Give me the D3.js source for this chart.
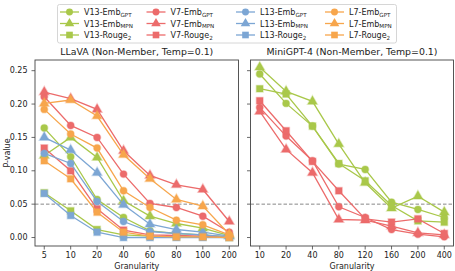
<!DOCTYPE html>
<html>
<head>
<meta charset="utf-8">
<script src="https://cdn.jsdelivr.net/npm/d3@7"></script>
<style>
  body { margin: 0; background: #fff; }
  svg { display: block; font-family: "DejaVu Sans", sans-serif; }
</style>
</head>
<body>
<div id="chart"></div>
<script>
// ── Data ──────────────────────────────────────────────────────────────────
const llavaGran = ["5", "10", "20", "40", "60", "80", "100", "200"];
const minigptGran = ["10", "20", "40", "80", "120", "160", "200", "400"];
const yTicks = [0, 0.05, 0.10, 0.15, 0.20, 0.25];

// LLaVA panel
const llavaV13Gpt   = [0.164, 0.121, 0.057, 0.030, 0.010, 0.006, 0.004, 0.001];
const llavaV13Mpn   = [0.123, 0.150, 0.120, 0.055, 0.032, 0.021, 0.014, 0.003];
const llavaV13Rouge = [0.067, 0.040, 0.012, 0.004, 0.002, 0.001, 0.001, 0.000];
const llavaV7Gpt    = [0.211, 0.168, 0.150, 0.095, 0.051, 0.045, 0.032, 0.008];
const llavaV7Mpn    = [0.218, 0.208, 0.192, 0.130, 0.093, 0.079, 0.072, 0.024];
const llavaV7Rouge  = [0.134, 0.100, 0.043, 0.011, 0.004, 0.003, 0.002, 0.001];
const llavaL13Gpt   = [0.126, 0.111, 0.054, 0.024, 0.009, 0.006, 0.004, 0.001];
const llavaL13Mpn   = [0.150, 0.131, 0.097, 0.049, 0.020, 0.012, 0.008, 0.002];
const llavaL13Rouge = [0.066, 0.033, 0.008, 0.000, 0.000, 0.000, 0.000, 0.000];
const llavaL7Gpt    = [0.192, 0.155, 0.134, 0.070, 0.045, 0.026, 0.019, 0.004];
const llavaL7Mpn    = [0.201, 0.206, 0.182, 0.124, 0.088, 0.057, 0.047, 0.005];
const llavaL7Rouge  = [0.115, 0.088, 0.038, 0.008, 0.002, 0.001, 0.001, 0.000];

// MiniGPT-4 panel
const miniV13Gpt   = [0.245, 0.201, 0.167, 0.110, 0.102, 0.053, 0.042, 0.030];
const miniV13Mpn   = [0.255, 0.219, 0.204, 0.140, 0.082, 0.044, 0.062, 0.038];
const miniV13Rouge = [0.223, 0.215, 0.167, 0.111, 0.085, 0.048, 0.025, 0.023];
const miniV7Gpt    = [0.195, 0.152, 0.115, 0.046, 0.030, 0.012, 0.005, 0.001];
const miniV7Mpn    = [0.189, 0.132, 0.097, 0.027, 0.026, 0.017, 0.007, 0.004];
const miniV7Rouge  = [0.205, 0.160, 0.114, 0.070, 0.028, 0.023, 0.028, 0.006];

const COLORS = { V13: "#a9c84a", V7: "#ec6b6b", L13: "#7ca6d4", L7: "#f7a64c" };

const llavaSeries = [
  { model: "V13", marker: "circle",   values: llavaV13Gpt },
  { model: "V13", marker: "triangle", values: llavaV13Mpn },
  { model: "V13", marker: "square",   values: llavaV13Rouge },
  { model: "V7",  marker: "circle",   values: llavaV7Gpt },
  { model: "V7",  marker: "triangle", values: llavaV7Mpn },
  { model: "V7",  marker: "square",   values: llavaV7Rouge },
  { model: "L13", marker: "circle",   values: llavaL13Gpt },
  { model: "L13", marker: "triangle", values: llavaL13Mpn },
  { model: "L13", marker: "square",   values: llavaL13Rouge },
  { model: "L7",  marker: "circle",   values: llavaL7Gpt },
  { model: "L7",  marker: "triangle", values: llavaL7Mpn },
  { model: "L7",  marker: "square",   values: llavaL7Rouge },
];
const miniSeries = [
  { model: "V13", marker: "circle",   values: miniV13Gpt },
  { model: "V13", marker: "triangle", values: miniV13Mpn },
  { model: "V13", marker: "square",   values: miniV13Rouge },
  { model: "V7",  marker: "circle",   values: miniV7Gpt },
  { model: "V7",  marker: "triangle", values: miniV7Mpn },
  { model: "V7",  marker: "square",   values: miniV7Rouge },
];

const legendModels = ["V13", "V7", "L13", "L7"];
const legendMetrics = [
  { marker: "circle",   base: "-Emb",   sub: "GPT" },
  { marker: "triangle", base: "-Emb",   sub: "MPN" },
  { marker: "square",   base: "-Rouge", sub: "2" },
];

// ── Layout ────────────────────────────────────────────────────────────────
const W = 455, H = 271;
const svg = d3.select("#chart").append("svg").attr("width", W).attr("height", H);

const plotTop = 60, plotBottom = 246;
const y = d3.scaleLinear().domain([-0.0127, 0.266]).range([plotBottom, plotTop]);

const symbolFor = {
  circle:   d3.symbol().type(d3.symbolCircle).size(38),
  triangle: d3.symbol().type(d3.symbolTriangle).size(40),
  square:   d3.symbol().type(d3.symbolSquare).size(44),
};

function drawPanel(left, right, cats, series, title, showYLabels) {
  // padding in step units: 0.35 of a step on each side (matplotlib margins)
  const x = d3.scalePoint().domain(cats).range([left, right]).padding(0.35);
  const g = svg.append("g");

  // dashed reference line
  g.append("line")
    .attr("x1", left).attr("x2", right)
    .attr("y1", y(0.05)).attr("y2", y(0.05))
    .attr("stroke", "#888").attr("stroke-width", 1)
    .attr("stroke-dasharray", "3.5,2");

  const line = d3.line().x((d, i) => x(cats[i])).y(d => y(d));

  series.forEach(function (s) {
    const c = COLORS[s.model];
    g.append("path").datum(s.values)
      .attr("d", line)
      .attr("fill", "none").attr("stroke", c).attr("stroke-width", 1.3);
    g.selectAll(null).data(s.values).enter().append("path")
      .attr("transform", (d, i) => `translate(${x(cats[i])},${y(d)})`)
      .attr("d", symbolFor[s.marker])
      .attr("fill", c).attr("stroke", c).attr("stroke-opacity", 0.35).attr("stroke-width", 1.5);
  });

  // frame
  g.append("rect")
    .attr("x", left).attr("y", plotTop)
    .attr("width", right - left).attr("height", plotBottom - plotTop)
    .attr("fill", "none").attr("stroke", "#444").attr("stroke-width", 0.9);

  // x ticks
  cats.forEach(function (c) {
    g.append("line").attr("x1", x(c)).attr("x2", x(c))
      .attr("y1", plotBottom).attr("y2", plotBottom + 3.5).attr("stroke", "#444").attr("stroke-width", 0.8);
    g.append("text").attr("x", x(c)).attr("y", plotBottom + 11.5)
      .attr("text-anchor", "middle").attr("font-size", 8).attr("fill", "#222").text(c);
  });
  // y ticks
  yTicks.forEach(function (v) {
    g.append("line").attr("x1", left - 3.5).attr("x2", left)
      .attr("y1", y(v)).attr("y2", y(v)).attr("stroke", "#444").attr("stroke-width", 0.8);
    if (showYLabels) {
      g.append("text").attr("x", left - 7.5).attr("y", y(v))
        .attr("text-anchor", "end").attr("dominant-baseline", "middle")
        .attr("font-size", 8).attr("fill", "#222").text(v.toFixed(2));
    }
  });

  g.append("text").attr("x", (left + right) / 2).attr("y", plotTop - 5)
    .attr("text-anchor", "middle").attr("font-size", 9.4).attr("fill", "#222").text(title);
  g.append("text").attr("x", (left + right) / 2).attr("y", 269)
    .attr("text-anchor", "middle").attr("font-size", 8).attr("fill", "#222").text("Granularity");
}

drawPanel(35, 238.5, llavaGran, llavaSeries, "LLaVA (Non-Member, Temp=0.1)", true);
drawPanel(250.5, 453.5, minigptGran, miniSeries, "MiniGPT-4 (Non-Member, Temp=0.1)", false);

svg.append("text")
  .attr("transform", `translate(10,${(plotTop + plotBottom) / 2}) rotate(-90)`)
  .attr("text-anchor", "middle").attr("font-size", 8).attr("fill", "#222").text("P-value");

// ── Legend ────────────────────────────────────────────────────────────────
const leg = svg.append("g");
leg.append("rect").attr("x", 57.5).attr("y", 4.5).attr("width", 339).attr("height", 38.5)
  .attr("rx", 2).attr("fill", "#fff").attr("stroke", "#ccc").attr("stroke-width", 0.8);
const colX = [60, 146.5, 236, 325];
const rowY = [12, 23.5, 35];
legendModels.forEach(function (m, ci) {
  legendMetrics.forEach(function (met, ri) {
    const x0 = colX[ci], yy = rowY[ri], c = COLORS[m];
    leg.append("line").attr("x1", x0).attr("x2", x0 + 19).attr("y1", yy).attr("y2", yy)
      .attr("stroke", c).attr("stroke-width", 1.3);
    leg.append("path").attr("transform", `translate(${x0 + 9.5},${yy})`)
      .attr("d", symbolFor[met.marker]).attr("fill", c);
    const t = leg.append("text").attr("x", x0 + 24).attr("y", yy + 3)
      .attr("font-size", 8).attr("fill", "#222");
    t.append("tspan").text(m + met.base);
    t.append("tspan").attr("font-size", 5.6).attr("dy", 1.8).text(met.sub);
  });
});
</script>
</body>
</html>
